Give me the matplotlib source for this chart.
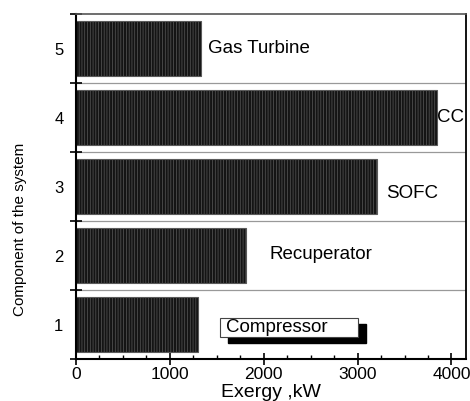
import numpy as np
import matplotlib
matplotlib.use("Agg")
import matplotlib.pyplot as plt
from matplotlib.ticker import MultipleLocator, FixedLocator

# exergy destruction per component (kW)
components = [1, 2, 3, 4, 5]
exergy = [1305, 1807, 3202, 3842, 1334]
names = ["Compressor", "Recuperator", "SOFC", "CC", "Gas Turbine"]

plt.rcParams['font.family'] = ['Liberation Sans', 'DejaVu Sans']
plt.rcParams['hatch.linewidth'] = 0.5

fig = plt.figure(figsize=(4.7, 4.01), dpi=100)
ax = fig.add_axes([0.1617, 0.1047, 0.8298, 0.8603])

ax.barh(components, exergy, height=0.79, color='#141414',
        edgecolor='#5a5a5a', hatch='||||||', linewidth=0.8, zorder=2)

ax.set_xlim(0, 4155)
ax.set_ylim(0.5, 5.5)

# separators between components
for yb in np.arange(1.5, 5.5, 1.0):
    ax.axhline(yb, color='#999999', lw=0.9, zorder=1)

# component labels next to bars
fs = 13.5
ax.text(1401, 5, names[4], fontsize=fs, va='center', ha='left')
ax.text(3848, 4, names[3], fontsize=fs, va='center', ha='left', clip_on=True)
ax.text(3301, 2.906, names[2], fontsize=fs, va='center', ha='left')
ax.text(2063, 2.02, names[1], fontsize=fs, va='center', ha='left')

# framed label with drop shadow for the compressor
box_x0, box_x1 = 1539, 3001
box_y0, box_y1 = 0.819, 1.094
ax.add_patch(plt.Rectangle((box_x0 + 85, box_y0 - 0.087), box_x1 - box_x0,
                           box_y1 - box_y0, color='black', zorder=4))
ax.add_patch(plt.Rectangle((box_x0, box_y0), box_x1 - box_x0, box_y1 - box_y0,
                           fc='white', ec='#444444', lw=0.8, zorder=5))
ax.text(box_x0 + 60, (box_y0 + box_y1) / 2, names[0], fontsize=fs,
        va='center', ha='left', zorder=6)

ax.xaxis.set_major_locator(MultipleLocator(1000))
ax.xaxis.set_minor_locator(MultipleLocator(250))
ax.tick_params(axis='x', which='major', direction='inout', length=8,
               width=1.2, labelsize=12.5, pad=2)
ax.tick_params(axis='x', which='minor', direction='in', length=3, width=1)

ax.yaxis.set_major_locator(FixedLocator(components))
ax.yaxis.set_minor_locator(FixedLocator(np.arange(0.5, 6.0, 1.0)))
ax.tick_params(axis='y', which='major', length=0, labelsize=12, pad=9)
ax.tick_params(axis='y', which='minor', direction='inout', length=8, width=1.2)
ax.tick_params(top=False, right=False)

ax.spines['left'].set_linewidth(1.5)
ax.spines['bottom'].set_linewidth(1.5)
ax.spines['right'].set_linewidth(1.3)
ax.spines['top'].set_color('#555555')
ax.spines['top'].set_linewidth(1.2)

ax.set_xlabel("Exergy ,kW", fontsize=14, labelpad=1)
ax.set_ylabel("Component of the system", fontsize=11)
ax.yaxis.set_label_coords(-0.125, 0.377)

fig.savefig("out.png", dpi=100)
